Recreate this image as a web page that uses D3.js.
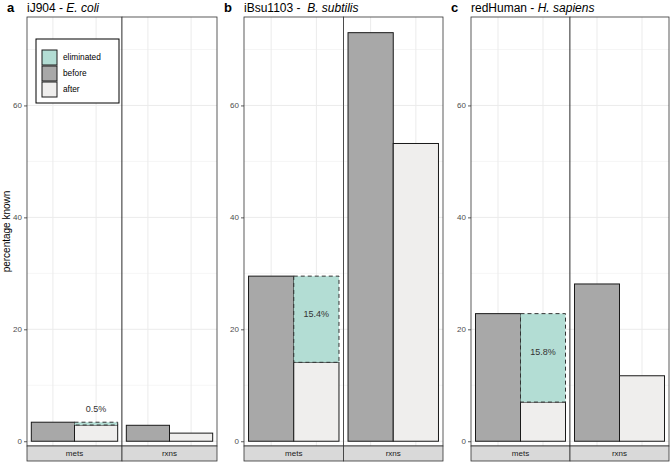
<!DOCTYPE html>
<html><head><meta charset="utf-8">
<script src="https://cdn.jsdelivr.net/npm/d3@7"></script>
<style>body{margin:0;background:#fff}svg{display:block;font-family:"Liberation Sans",Arial,sans-serif}</style>
</head><body><svg id="c" width="671" height="463"></svg>
<script>
// ---- data ----
const panelLetters = ["a", "b", "c"];
const modelNames = ["iJ904 - ", "iBsu1103 -  ", "redHuman - "];
const organisms = ["E. coli", "B. subtilis", "H. sapiens"];
const facets = ["mets", "rxns"];
const stages = ["before", "after"];
// percentage known [mets, rxns] per panel
const beforeVals = [[3.4, 2.85], [29.5, 73.0], [22.8, 28.1]];
const afterVals  = [[2.9, 1.45], [14.1, 53.2], [7.0, 11.7]];
const eliminatedLabels = ["0.5%", "15.4%", "15.8%"];
const yTicks = [0, 20, 40, 60];
const yMinor = [10, 30, 50, 70];
const legendItems = ["eliminated", "before", "after"];

const colors = {eliminated: "#b3ddd4", before: "#a8a8a8", after: "#efeeed"};

// ---- layout ----
const svg = d3.select("#c");
const pTop = 17, pBottom = 446, stripH = 15;
const panelX = [[27, 217], [244, 443], [471, 669]];
const y = d3.scaleLinear().domain([-0.85, 75.8]).range([pBottom, pTop]);

panelX.forEach((px, p) => {
  const g = svg.append("g");
  const fw = (px[1] - px[0]) / 2;
  // title
  g.append("text").attr("x", px[0] - 20).attr("y", 11.5).attr("font-size", 13)
    .attr("font-weight", "bold").attr("fill", "#000").text(panelLetters[p]);
  const t = g.append("text").attr("x", px[0]).attr("y", 11.5).attr("font-size", 12)
    .attr("fill", "#000").style("white-space", "pre");
  t.append("tspan").text(modelNames[p]);
  t.append("tspan").attr("font-style", "italic").text(organisms[p]);

  // y axis
  const ax = g.append("g").attr("transform", `translate(${px[0]},0)`)
    .call(d3.axisLeft(y).tickValues(yTicks).tickSize(3).tickPadding(2));
  ax.select(".domain").remove();
  ax.selectAll(".tick line").attr("stroke", "#333").attr("stroke-width", 0.8);
  ax.selectAll(".tick text").attr("font-size", 8).attr("fill", "#4d4d4d")
    .attr("font-family", "Liberation Sans, Arial, sans-serif");

  facets.forEach((f, fi) => {
    const x0 = px[0] + fi * fw, x1 = x0 + fw;
    const x = d3.scaleBand().domain(stages).range([x0, x1]).paddingInner(0).paddingOuter(0.1);
    const fg = g.append("g");
    fg.append("rect").attr("x", x0).attr("y", pTop).attr("width", fw).attr("height", pBottom - pTop).attr("fill", "#fff");
    // grid
    yMinor.forEach(v => fg.append("line").attr("x1", x0).attr("x2", x1).attr("y1", y(v)).attr("y2", y(v))
      .attr("stroke", "#ebebeb").attr("stroke-width", 0.5));
    yTicks.forEach(v => fg.append("line").attr("x1", x0).attr("x2", x1).attr("y1", y(v)).attr("y2", y(v))
      .attr("stroke", "#ebebeb").attr("stroke-width", 1));
    stages.forEach(s => {
      const cx = x(s) + x.bandwidth() / 2;
      fg.append("line").attr("x1", cx).attr("x2", cx).attr("y1", pTop).attr("y2", pBottom)
        .attr("stroke", "#ebebeb").attr("stroke-width", 1);
    });
    const bv = beforeVals[p][fi], av = afterVals[p][fi];
    const vals = {before: bv, after: av};
    stages.forEach(s => {
      fg.append("rect").attr("x", x(s)).attr("width", x.bandwidth())
        .attr("y", y(vals[s])).attr("height", y(0) - y(vals[s]))
        .attr("fill", colors[s]).attr("stroke", "#1a1a1a").attr("stroke-width", 1);
    });
    if (fi === 0) {
      // eliminated segment
      fg.append("rect").attr("x", x("after")).attr("width", x.bandwidth())
        .attr("y", y(bv)).attr("height", y(av) - y(bv))
        .attr("fill", colors.eliminated).attr("stroke", "#333").attr("stroke-width", 1)
        .attr("stroke-dasharray", "4,3");
      const mid = (bv + av) / 2;
      const ly = (bv - av) < 3 ? bv + 2.4 : mid + 1.0;
      fg.append("text").attr("x", x("after") + x.bandwidth() / 2).attr("y", y(ly))
        .attr("dy", "0.35em").attr("text-anchor", "middle").attr("font-size", 9)
        .attr("fill", "#333").text(eliminatedLabels[p]);
    }
    fg.append("rect").attr("x", x0).attr("y", pTop).attr("width", fw).attr("height", pBottom - pTop)
      .attr("fill", "none").attr("stroke", "#333").attr("stroke-width", 0.8);
    // strip
    fg.append("rect").attr("x", x0).attr("y", pBottom).attr("width", fw).attr("height", stripH)
      .attr("fill", "#d9d9d9").attr("stroke", "#333").attr("stroke-width", 0.8);
    fg.append("text").attr("x", (x0 + x1) / 2).attr("y", pBottom + stripH / 2).attr("dy", "0.35em")
      .attr("text-anchor", "middle").attr("font-size", 8).attr("fill", "#1a1a1a").text(f);
  });
});

// y title
svg.append("text").attr("transform", `translate(10,${(pTop + pBottom) / 2}) rotate(-90)`)
  .attr("text-anchor", "middle").attr("font-size", 10).attr("fill", "#000").text("percentage known");

// legend
const lg = svg.append("g");
lg.append("rect").attr("x", 36).attr("y", 39).attr("width", 83).attr("height", 64)
  .attr("fill", "#fff").attr("stroke", "#000").attr("stroke-width", 1);
legendItems.forEach((k, i) => {
  const ky = 50 + i * 16;
  lg.append("rect").attr("x", 42).attr("y", ky).attr("width", 15).attr("height", 15)
    .attr("fill", colors[k]).attr("stroke", "#1a1a1a").attr("stroke-width", 1);
  lg.append("text").attr("x", 63).attr("y", ky + 7.5).attr("dy", "0.35em")
    .attr("font-size", 8.3).attr("fill", "#000").text(k);
});
</script></body></html>
